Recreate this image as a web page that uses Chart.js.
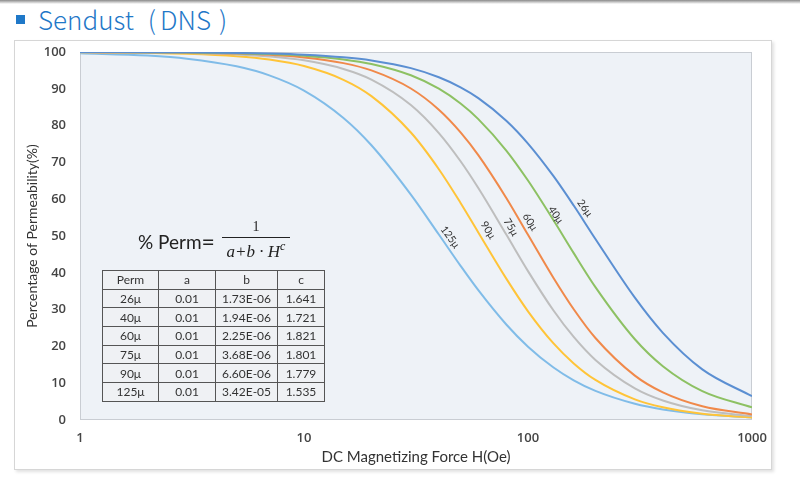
<!DOCTYPE html>
<html>
<head>
<meta charset="utf-8">
<script src="https://cdn.jsdelivr.net/npm/chart.js@4.4.1/dist/chart.umd.min.js"></script>
<style>
  html, body { margin: 0; padding: 0; background: #fff; }
  #page { position: relative; width: 800px; height: 488px; overflow: hidden; }
  #topbar { position: absolute; left: 0; top: 0; width: 800px; height: 4px;
    background: linear-gradient(#8a8a8a, #fff); }
  #title { position: absolute; left: 16px; top: 0px; color: #1f78c8;
    font-family: "Noto Sans CJK SC", "Noto Sans", sans-serif; font-size: 26px; font-weight: 300; white-space: nowrap; }
  #title .sq { display: inline-block; width: 9px; height: 9px; background: #1f78c8;
    vertical-align: middle; margin-right: 13px; position: relative; top: -3px; }
  #box { position: absolute; left: 14px; top: 40px; width: 756px; height: 428px;
    border: 1px solid #d6d6d6; box-shadow: 2px 2px 3px rgba(0,0,0,0.12); background: #fff; }
  canvas { position: absolute; left: 0; top: 0; }
  #formula { position: absolute; left: 138px; top: 214px; font-family: Lato, "Open Sans", sans-serif;
    color: #222; white-space: nowrap; }
  #formula .lhs { position: absolute; left: 0; top: 16px; font-size: 19px; }
  #formula .eq { font-size: 23px; line-height: 19px; position: relative; top: 1px; }
  #formula .num { position: absolute; left: 84px; width: 68px; top: 5px; text-align: center;
    font-family: "Liberation Serif", serif; font-size: 14px; line-height: 16px; }
  #formula .bar { position: absolute; left: 84px; width: 68px; top: 23px; height: 1px; background: #222; }
  #formula .den { position: absolute; left: 84px; width: 68px; top: 25px; text-align: center;
    font-family: "Liberation Serif", serif; font-style: italic; font-size: 17px; }
  #formula .den sup { font-size: 12px; }
  #ptable { position: absolute; left: 102px; top: 270px; border-collapse: collapse;
    background: #eff1f4; font-family: Lato, "Open Sans", sans-serif; font-size: 12px; color: #333; }
  #ptable td { border: 1px solid #555; height: 17.7px; padding: 0; text-align: center; }
</style>
</head>
<body>
<div id="page">
  <div id="topbar"></div>
  <div id="title"><span class="sq"></span>Sendust<span style="margin-left:14px">(</span><span style="margin-left:4px">DNS</span><span style="margin-left:8px">)</span></div>
  <div id="box"></div>
  <canvas id="chart" width="800" height="488"></canvas>
  <div id="formula">
    <span class="lhs">% Perm<span class="eq">=</span></span>
    <span class="num">1</span>
    <span class="bar"></span>
    <span class="den">a+b · H<sup>c</sup></span>
  </div>
  <table id="ptable"></table>
</div>
<script>
  /* Data */
  const fieldH = [1, 2, 3, 5, 7, 10, 15, 20, 30, 40, 50, 60, 80, 100, 130, 160, 200, 300, 400, 600, 1000];
  const perm26 = [99.98, 99.95, 99.9, 99.76, 99.58, 99.25, 98.55, 97.69, 95.61, 93.14, 90.4, 87.47, 81.33, 75.12, 66.25, 58.27, 49.19, 33.23, 23.69, 13.76, 6.46];
  const perm40 = [99.98, 99.94, 99.87, 99.69, 99.45, 98.99, 97.99, 96.74, 93.67, 90.02, 86.0, 81.77, 73.23, 65.07, 54.26, 45.34, 36.11, 21.95, 14.63, 7.86, 3.42];
  const perm60 = [99.98, 99.92, 99.83, 99.58, 99.23, 98.53, 96.98, 95.0, 90.08, 84.32, 78.17, 71.98, 60.34, 50.34, 38.6, 30.1, 22.29, 12.06, 7.51, 3.73, 1.51];
  const perm75 = [99.96, 99.87, 99.73, 99.34, 98.79, 97.73, 95.39, 92.5, 85.59, 77.97, 70.31, 63.03, 50.39, 40.46, 29.75, 22.57, 16.32, 8.59, 5.3, 2.63, 1.06];
  const perm90 = [99.93, 99.77, 99.54, 98.86, 97.94, 96.18, 92.45, 88.01, 78.12, 68.15, 58.99, 50.98, 38.41, 29.54, 20.81, 15.38, 10.89, 5.61, 3.44, 1.7, 0.69];
  const perm125 = [99.66, 99.02, 98.19, 96.11, 93.65, 89.51, 82.07, 74.65, 61.24, 50.4, 41.9, 35.28, 25.96, 19.93, 14.26, 10.79, 7.91, 4.41, 2.88, 1.57, 0.72];

  const xTicks = [1, 10, 100, 1000];
  const yTicks = [0, 10, 20, 30, 40, 50, 60, 70, 80, 90, 100];

  /* Coefficient table */
  const tableHead = ['Perm', 'a', 'b', 'c'];
  const permNames = ['26μ', '40μ', '60μ', '75μ', '90μ', '125μ'];
  const coefA = ['0.01', '0.01', '0.01', '0.01', '0.01', '0.01'];
  const coefB = ['1.73E-06', '1.94E-06', '2.25E-06', '3.68E-06', '6.60E-06', '3.42E-05'];
  const coefC = ['1.641', '1.721', '1.821', '1.801', '1.779', '1.535'];

  (function () {
    const t = document.getElementById('ptable');
    const widths = [55, 56, 61, 46];
    let html = '<tr>' + tableHead.map(function (h, i) { return '<td style="width:' + widths[i] + 'px">' + h + '</td>'; }).join('') + '</tr>';
    permNames.forEach(function (n, i) {
      html += '<tr><td>' + n + '</td><td>' + coefA[i] + '</td><td>' + coefB[i] + '</td><td>' + coefC[i] + '</td></tr>';
    });
    t.innerHTML = html;
  }());

  const series = [
    { label: '26μ', values: perm26, color: '#5b8fd2' },
    { label: '40μ', values: perm40, color: '#8dc163' },
    { label: '60μ', values: perm60, color: '#f0894a' },
    { label: '75μ', values: perm75, color: '#bebebe' },
    { label: '90μ', values: perm90, color: '#ffc438' },
    { label: '125μ', values: perm125, color: '#80bce8' }
  ];

  /* curve labels: anchor in data units, rotation in degrees */
  const curveTags = [
    { text: '26μ', h: 174, p: 57.6, rot: 55 },
    { text: '40μ', h: 129, p: 55.7, rot: 56 },
    { text: '60μ', h: 99, p: 53.8, rot: 58 },
    { text: '75μ', h: 81.4, p: 52.4, rot: 59 },
    { text: '90μ', h: 64.3, p: 51.6, rot: 58 },
    { text: '125μ', h: 43.5, p: 49.7, rot: 54 }
  ];

  const plotBg = {
    id: 'plotBg',
    beforeDraw: function (chart) {
      const a = chart.chartArea, ctx = chart.ctx;
      ctx.save();
      ctx.fillStyle = '#eef2f7';
      ctx.fillRect(a.left, a.top, a.right - a.left, a.bottom - a.top);
      ctx.strokeStyle = '#c9cdd3';
      ctx.lineWidth = 1;
      ctx.strokeRect(a.left + 0.5, a.top + 0.5, a.right - a.left - 1, a.bottom - a.top - 1);
      ctx.restore();
    }
  };

  const tagPlugin = {
    id: 'tags',
    afterDatasetsDraw: function (chart) {
      const ctx = chart.ctx, xs = chart.scales.x, ys = chart.scales.y;
      ctx.save();
      ctx.font = '10.5px Lato, "Open Sans", sans-serif';
      ctx.fillStyle = '#333';
      ctx.textAlign = 'center';
      ctx.textBaseline = 'middle';
      curveTags.forEach(function (t) {
        ctx.save();
        ctx.translate(xs.getPixelForValue(t.h) + 3, ys.getPixelForValue(t.p));
        ctx.rotate(t.rot * Math.PI / 180);
        ctx.fillText(t.text, 0, 0);
        ctx.restore();
      });
      ctx.restore();
    }
  };

  new Chart(document.getElementById('chart'), {
    type: 'line',
    data: {
      datasets: series.map(function (s) {
        return {
          label: s.label,
          data: fieldH.map(function (h, i) { return { x: h, y: s.values[i] }; }),
          borderColor: s.color,
          borderWidth: 2,
          pointRadius: 0,
          fill: false,
          cubicInterpolationMode: 'monotone'
        };
      })
    },
    options: {
      responsive: false,
      animation: false,
      layout: { padding: { left: 20, right: 48, top: 52, bottom: 20 } },
      plugins: { legend: { display: false }, tooltip: { enabled: false } },
      scales: {
        x: {
          type: 'logarithmic',
          min: 1,
          max: 1000,
          afterBuildTicks: function (scale) { scale.ticks = xTicks.map(function (v) { return { value: v }; }); },
          afterFit: function (scale) { scale.height = 48; },
          grid: { display: false, drawTicks: false },
          border: { display: false },
          ticks: {
            padding: 10,
            color: '#444',
            font: { family: '"Open Sans", sans-serif', size: 13, weight: '600' },
            maxRotation: 0,
            callback: function (v) { return String(v); }
          },
          title: {
            display: true,
            text: 'DC Magnetizing Force H(Oe)',
            color: '#333',
            padding: { top: 0, bottom: 2 },
            font: { family: 'Lato, "Open Sans", sans-serif', size: 15 }
          }
        },
        y: {
          min: 0,
          max: 100,
          afterBuildTicks: function (scale) { scale.ticks = yTicks.map(function (v) { return { value: v }; }); },
          afterFit: function (scale) { scale.width = 60; },
          grid: { display: false, drawTicks: false },
          border: { display: false },
          ticks: {
            padding: 14,
            color: '#444',
            font: { family: '"Open Sans", sans-serif', size: 13, weight: '600' }
          },
          title: {
            display: true,
            text: 'Percentage of Permeability(%)',
            color: '#333',
            padding: { top: 4, bottom: 4 },
            font: { family: 'Lato, "Open Sans", sans-serif', size: 14 }
          }
        }
      }
    },
    plugins: [plotBg, tagPlugin]
  });
</script>
</body>
</html>
